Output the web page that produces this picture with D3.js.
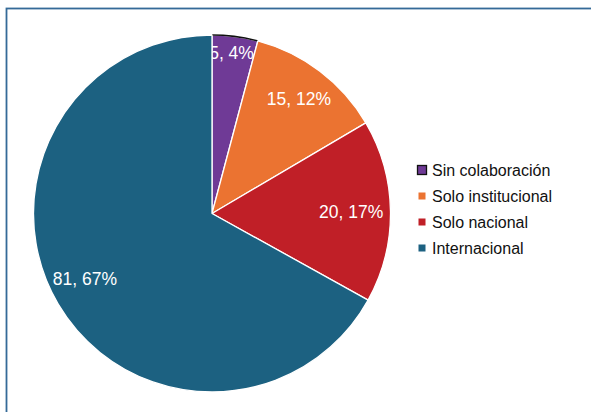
<!DOCTYPE html>
<html>
<head>
<meta charset="utf-8">
<script src="https://cdn.jsdelivr.net/npm/d3@7"></script>
<style>
  html, body { margin: 0; padding: 0; background: #fff; }
  svg { display: block; font-family: "Liberation Sans", Arial, sans-serif; }
</style>
</head>
<body>
<svg id="chart" width="591" height="412"></svg>
<script>
// Collaboration type of publications
const categories = ["Sin colaboración", "Solo institucional", "Solo nacional", "Internacional"];
const counts = [5, 15, 20, 81];
const percentLabels = ["4%", "12%", "17%", "67%"];
const colors = ["#6f3a96", "#eb7331", "#c01f27", "#1c6181"];

const svg = d3.select("#chart");
const W = 591, H = 412;

// chart frame
svg.append("rect")
  .attr("x", 6.5).attr("y", 8.5)
  .attr("width", W + 10).attr("height", H + 10)
  .attr("fill", "none")
  .attr("stroke", "#356a98")
  .attr("stroke-width", 1.8);

const cx = 212, cy = 213.5, R = 178.5;
const data = categories.map((c, i) => ({ name: c, value: counts[i], pct: percentLabels[i], color: colors[i] }));

const pie = d3.pie().value(d => d.value).sort(null);
const arc = d3.arc().innerRadius(0).outerRadius(R);
// label placement: distance from the centre (share of radius) and a small nudge
const labelRatio = [0.91, 0.805, 0.78, 0.80];
const labelNudge = [[-1.5, 0], [0, 0], [0, 0], [-4, -7]];

const g = svg.append("g").attr("transform", `translate(${cx},${cy})`);
const arcs = pie(data);

arcs.forEach((a, i) => {
  const slice = g.append("g");
  slice.append("path")
    .attr("d", arc(a))
    .attr("fill", a.data.color)
    .attr("stroke", "#fff")
    .attr("stroke-width", 1.3)
    .attr("stroke-linejoin", "round");
  if (i === 0) {
    // highlighted outer edge of the first slice
    const edge = d3.arc().innerRadius(R).outerRadius(R);
    slice.append("path")
      .attr("d", edge(a))
      .attr("fill", "none")
      .attr("stroke", "#111")
      .attr("stroke-width", 1.6);
  }
  const lr = R * labelRatio[i];
  const mid = (a.startAngle + a.endAngle) / 2;
  slice.append("text")
    .attr("x", Math.sin(mid) * lr + labelNudge[i][0])
    .attr("y", -Math.cos(mid) * lr + labelNudge[i][1])
    .attr("dy", "0.35em")
    .attr("text-anchor", "middle")
    .attr("fill", "#fff")
    .attr("font-size", 17.5)
    .text(`${a.data.value}, ${a.data.pct}`);
});

// legend
const legend = svg.append("g").attr("transform", "translate(418,170)");
data.forEach((d, i) => {
  const row = legend.append("g").attr("transform", `translate(0,${i * 26})`);
  if (i === 0) {
    row.append("rect")
      .attr("x", -0.5).attr("y", -4.5).attr("width", 9).attr("height", 9)
      .attr("fill", d.color).attr("stroke", "#111").attr("stroke-width", 1.3);
  } else {
    row.append("rect")
      .attr("x", 0.5).attr("y", -3.5).attr("width", 7).attr("height", 7)
      .attr("fill", d.color);
  }
  row.append("text")
    .attr("x", 14).attr("y", 0).attr("dy", "0.35em")
    .attr("font-size", 16)
    .attr("fill", "#111")
    .text(d.name);
});
</script>
</body>
</html>
